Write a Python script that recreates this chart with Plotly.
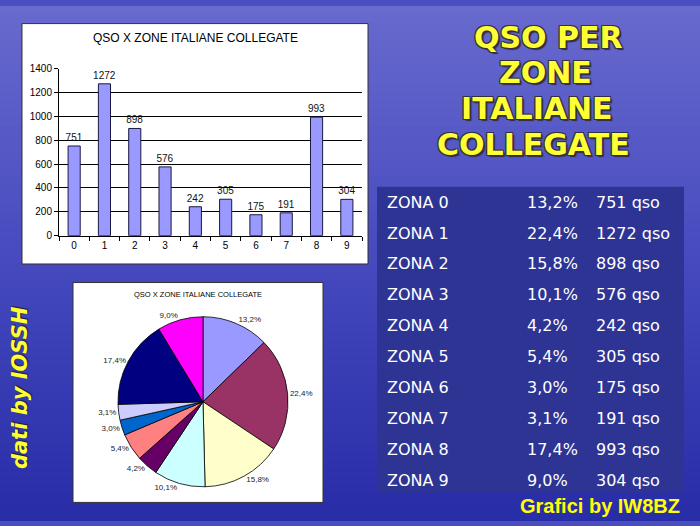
import plotly.graph_objects as go

# ---------------- data ----------------
zones = ["0", "1", "2", "3", "4", "5", "6", "7", "8", "9"]
qso = [751, 1272, 898, 576, 242, 305, 175, 191, 993, 304]
pct = [13.2, 22.4, 15.8, 10.1, 4.2, 5.4, 3.0, 3.1, 17.4, 9.0]
pct_labels = ["13,2%", "22,4%", "15,8%", "10,1%", "4,2%", "5,4%", "3,0%", "3,1%", "17,4%", "9,0%"]
pie_colors = ["#9999FF", "#993366", "#FFFFCC", "#CCFFFF", "#660066",
              "#FF8080", "#0066CC", "#CCCCFF", "#000080", "#FF00FF"]
y_ticks = [0, 200, 400, 600, 800, 1000, 1200, 1400]
chart_title = "QSO X ZONE ITALIANE COLLEGATE"
slide_title = ["QSO PER", "ZONE", "ITALIANE", "COLLEGATE"]

W, H = 700, 526


def px(x):
    return x / W


def py(y):
    return 1 - y / H


fig = go.Figure()

# bar chart
fig.add_trace(go.Bar(
    x=zones, y=qso, width=0.4,
    marker=dict(color="#9999FF", line=dict(color="#1a1a40", width=1)),
    text=[str(v) for v in qso], textposition="outside", constraintext="none",
    textfont=dict(family="Liberation Sans", size=10, color="#111"),
    cliponaxis=False, showlegend=False, hoverinfo="x+y",
))

# pie chart
fig.add_trace(go.Pie(
    values=pct, labels=["ZONA " + z for z in zones], text=pct_labels,
    textinfo="text", textposition="outside", sort=False,
    direction="clockwise", rotation=0,
    marker=dict(colors=pie_colors, line=dict(color="#000000", width=0.8)),
    textfont=dict(family="Liberation Sans", size=8, color="#222"),
    showlegend=False,
    domain=dict(x=[px(116), px(290)], y=[py(492), py(318)]),
))

shapes = []
# background gradient (sky / sea)
n = 60
top = (104, 106, 206)
mid = (70, 74, 190)
bot = (40, 45, 168)
for i in range(n):
    t = i / (n - 1)
    if t < 0.5:
        u = t / 0.5
        c = tuple(int(top[k] + (mid[k] - top[k]) * u) for k in range(3))
    else:
        u = (t - 0.5) / 0.5
        c = tuple(int(mid[k] + (bot[k] - mid[k]) * u) for k in range(3))
    shapes.append(dict(type="rect", xref="paper", yref="paper", layer="below",
                       x0=0, x1=1, y0=1 - (i + 1) / n - 0.002, y1=1 - i / n,
                       fillcolor="rgb(%d,%d,%d)" % c, line=dict(width=0)))
# white box bar chart
shapes.append(dict(type="rect", xref="paper", yref="paper", layer="below",
                   x0=px(22), x1=px(368), y0=py(264), y1=py(18),
                   fillcolor="white", line=dict(color="#333", width=1)))
# white box pie chart
shapes.append(dict(type="rect", xref="paper", yref="paper", layer="below",
                   x0=px(73), x1=px(323), y0=py(508), y1=py(283),
                   fillcolor="white", line=dict(color="#333", width=1)))
# table background
shapes.append(dict(type="rect", xref="paper", yref="paper", layer="below",
                   x0=px(377), x1=px(684), y0=py(498), y1=py(185),
                   fillcolor="#2D3494", line=dict(width=0)))

annotations = []
annotations.append(dict(text=chart_title, x=px(195), y=py(33), xref="paper", yref="paper",
                        showarrow=False, font=dict(family="Liberation Sans", size=12, color="#000"),
                        xanchor="center", yanchor="middle"))
annotations.append(dict(text=chart_title, x=px(198), y=py(295), xref="paper", yref="paper",
                        showarrow=False, font=dict(family="Liberation Sans", size=7.5, color="#000"),
                        xanchor="center", yanchor="middle"))

outline = ("-1px -1px 0 #303040, 1px -1px 0 #303040, -1px 1px 0 #303040, "
           "1px 1px 0 #303040, 2px 2px 1px #303040")
title_x = [548, 545, 537, 533]
title_y = [32, 68, 105, 142]
for s, tx, ty in zip(slide_title, title_x, title_y):
    annotations.append(dict(text="<b>%s</b>" % s, x=px(tx), y=py(ty), xref="paper", yref="paper",
                            showarrow=False, xanchor="center", yanchor="middle",
                            font=dict(family="DejaVu Sans", size=30, color="#FFFF33",
                                      shadow=outline)))

# table rows
row0, row_step = 200.7, 31.6
for i, z in enumerate(zones):
    yy = py(row0 + i * row_step)
    for txt, xx in (("ZONA " + z, 385), (pct_labels[i], 525), ("%d qso" % qso[i], 594)):
        annotations.append(dict(text=txt, x=px(xx), y=yy, xref="paper", yref="paper",
                                showarrow=False, xanchor="left", yanchor="middle",
                                font=dict(family="DejaVu Sans", size=16, color="white")))

annotations.append(dict(text="<b><i>dati by IOSSH</i></b>", x=px(20), y=py(391), xref="paper",
                        yref="paper", showarrow=False, textangle=-90, xanchor="center",
                        yanchor="middle",
                        font=dict(family="DejaVu Sans", size=21, color="#FFFF33",
                                  shadow="1px 1px 1px #202030")))
annotations.append(dict(text="<b>Grafici by IW8BZ</b>", x=px(600), y=py(512), xref="paper",
                        yref="paper", showarrow=False, xanchor="center", yanchor="middle",
                        font=dict(family="Liberation Sans", size=20, color="#FFFF00")))

fig.update_layout(
    width=W, height=H, margin=dict(l=0, r=0, t=0, b=0),
    paper_bgcolor="#4A4EC0", plot_bgcolor="#C0C0C0",
    shapes=shapes, annotations=annotations,
    xaxis=dict(domain=[px(59), px(362)], type="category", showgrid=False,
               showline=True, linecolor="#000", linewidth=1,
               ticks="outside", tickson="boundaries", ticklen=4, tickcolor="#000",
               tickfont=dict(family="Liberation Sans", size=10, color="#000"),
               fixedrange=True),
    yaxis=dict(domain=[py(235), py(64)], range=[0, 1400], tickvals=y_ticks,
               showgrid=True, gridcolor="#000", gridwidth=1,
               showline=True, linecolor="#000", linewidth=1,
               ticks="outside", ticklen=4, tickcolor="#000",
               tickfont=dict(family="Liberation Sans", size=10, color="#000"),
               zeroline=False, fixedrange=True),
    bargap=0.6,
)

fig.write_html("out.html", config={"displayModeBar": False},
               post_script="document.body.style.margin='0';document.body.style.overflow='hidden';")
